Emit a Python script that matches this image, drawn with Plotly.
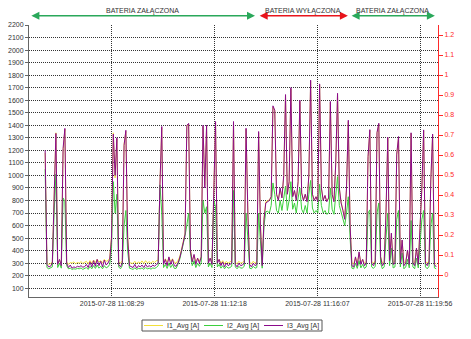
import pandas as pd
import plotly.graph_objects as go

# ---- measured phase currents, one sample every 4 s ----
START_TIME = "2015-07-28 11:06:00"
SAMPLE_STEP = "4s"

I1_AVG = [
    1180, 300, 290, 295, 310, 900, 1340, 305, 320, 295,
    1190, 1370, 310, 290, 305, 300, 310, 295, 305, 300,
    312, 298, 305, 315, 295, 320, 300, 325, 305, 330,
    310, 320, 300, 330, 315, 320, 340, 520, 1340, 980,
    1290, 310, 300, 320, 1250, 1350, 520, 305, 300, 298,
    315, 295, 310, 300, 318, 298, 320, 302, 312, 298,
    315, 305, 320, 320, 930, 1380, 310, 335, 305, 345,
    312, 335, 305, 300, 320, 350, 410, 470, 540, 1390,
    1410, 410, 320, 365, 310, 340, 315, 350, 1390, 920,
    1395, 315, 340, 305, 810, 1425, 315, 330, 300, 320,
    295, 315, 300, 310, 320, 1420, 305, 295, 315, 300,
    305, 320, 1370, 720, 305, 295, 315, 300, 310, 1340,
    620, 300, 660, 790, 795, 805, 830, 1545, 1515, 850,
    805, 890, 825, 990, 1640, 850, 940, 1690, 835, 875,
    805, 940, 1590, 860, 805, 850, 795, 990, 1750, 850,
    805, 830, 795, 1720, 895, 805, 840, 795, 820, 1580,
    850, 795, 1090, 1645, 895, 785, 725, 660, 890, 1430,
    610, 300, 295, 345, 300, 380, 310, 330, 300, 315,
    1140, 1360, 315, 300, 320, 1335, 1410, 350, 300, 315,
    690, 1300, 330, 530, 305, 315, 1160, 1305, 315, 480,
    300, 315, 400, 305, 1335, 315, 300, 415, 305, 560,
    890, 1355, 315, 300, 320, 955, 1325, 305, 290,
]

I2_AVG = [
    1050, 265, 255, 260, 270, 700, 1010, 265, 300, 260,
    820, 790, 280, 255, 260, 250, 255, 252, 258, 255,
    262, 250, 256, 265, 250, 275, 255, 280, 258, 285,
    260, 275, 255, 280, 262, 270, 290, 420, 950, 700,
    850, 270, 255, 280, 600, 720, 400, 260, 255, 250,
    262, 250, 258, 255, 262, 250, 265, 255, 260, 252,
    262, 258, 265, 280, 925, 700, 265, 290, 258, 300,
    265, 290, 258, 258, 290, 330, 390, 450, 520, 605,
    700, 380, 280, 320, 265, 300, 275, 305, 800, 700,
    750, 270, 300, 265, 800, 750, 270, 290, 260, 280,
    255, 275, 260, 265, 275, 880, 270, 255, 275, 260,
    262, 275, 700, 500, 260, 255, 275, 260, 265, 700,
    450, 260, 600, 710, 715, 700, 760, 940, 850, 720,
    700, 800, 720, 830, 915, 720, 800, 950, 730, 780,
    700, 820, 900, 730, 700, 760, 700, 850, 960, 740,
    700, 720, 700, 930, 760, 700, 720, 690, 700, 900,
    730, 690, 850, 990, 760, 700, 640, 600, 700, 830,
    500, 260, 255, 300, 258, 320, 262, 290, 258, 270,
    700, 725, 270, 258, 275, 700, 780, 300, 255, 270,
    500, 700, 280, 420, 262, 270, 650, 720, 270, 380,
    255, 270, 330, 262, 640, 270, 255, 340, 262, 450,
    650, 720, 270, 255, 275, 600, 700, 262, 255,
]

I3_AVG = [
    1200, 290, 270, 275, 300, 930, 1335, 290, 330, 280,
    1215, 1375, 300, 265, 285, 260, 270, 265, 275, 270,
    280, 268, 272, 290, 265, 310, 270, 320, 275, 330,
    280, 315, 270, 325, 285, 300, 330, 500, 1330, 1000,
    1300, 290, 270, 300, 1240, 1360, 500, 280, 270, 265,
    290, 260, 280, 270, 285, 265, 290, 270, 280, 268,
    285, 275, 290, 300, 925, 1390, 290, 330, 280, 350,
    290, 330, 280, 275, 300, 340, 400, 460, 530, 1400,
    1415, 400, 310, 370, 290, 340, 300, 350, 1400, 900,
    1400, 300, 340, 290, 800, 1430, 300, 330, 280, 310,
    270, 300, 280, 290, 300, 1430, 290, 270, 300, 280,
    285, 300, 1376, 700, 290, 270, 300, 280, 290, 1350,
    600, 280, 650, 780, 790, 800, 830, 1555, 1520, 850,
    800, 900, 820, 1000, 1645, 850, 950, 1700, 830, 880,
    800, 950, 1600, 860, 800, 850, 790, 1000, 1760, 850,
    800, 830, 790, 1730, 900, 800, 840, 790, 820, 1590,
    850, 790, 1100, 1655, 900, 780, 720, 650, 900, 1440,
    600, 280, 270, 350, 280, 390, 290, 330, 280, 300,
    1150, 1365, 300, 280, 310, 1342, 1416, 350, 280, 300,
    700, 1305, 320, 540, 290, 300, 1170, 1310, 300, 485,
    280, 300, 405, 290, 1340, 300, 280, 420, 290, 565,
    900, 1363, 300, 280, 310, 964, 1330, 290, 270,
]

SERIES_NAMES = ["I1_Avg [A]", "I2_Avg [A]", "I3_Avg [A]"]
SERIES_COLORS = ["#f2e03a", "#3ccf3c", "#8b0a8b"]

# ---- battery state periods ----
BATTERY_LABELS = ["BATERIA ZAŁĄCZONA", "BATERIA WYŁĄCZONA", "BATERIA ZAŁĄCZONA"]
BATTERY_START = ["2015-07-28 11:05:26", "2015-07-28 11:13:55", "2015-07-28 11:17:20"]
BATTERY_END = ["2015-07-28 11:13:48", "2015-07-28 11:17:15", "2015-07-28 11:20:29"]
BATTERY_COLORS = ["#2aa85a", "#e8141b", "#2aa85a"]

# ---- axes ----
X_RANGE = ["2015-07-28 11:05:24", "2015-07-28 11:20:36"]
X_TICKS = ["2015-07-28 11:08:29", "2015-07-28 11:12:18",
           "2015-07-28 11:16:07", "2015-07-28 11:19:56"]
Y_RANGE = [30, 2200]
Y2_RANGE = [-0.11, 1.25]
Y2_TICKS = [0, 0.1, 0.2, 0.3, 0.4, 0.5, 0.6, 0.7, 0.8, 0.9, 1.0, 1.1, 1.2]
Y2_LABELS = ["0", "0.1", "0.2", "0.3", "0.4", "0.5", "0.6",
             "0.7", "0.8", "0.9", "1", "1.1", "1.2"]

FONT = "Liberation Sans"
W, H = 471, 339
ML, MR, MT, MB = 29, 33, 25, 42
PW, PH = W - ML - MR, H - MT - MB


def px_x(px):
    """Figure pixel column -> paper x."""
    return (px - ML) / PW


def px_y(py):
    """Figure pixel row -> paper y."""
    return (H - MB - py) / PH


times = pd.date_range(START_TIME, periods=len(I3_AVG), freq=SAMPLE_STEP)

fig = go.Figure()
for name, color, values in zip(SERIES_NAMES, SERIES_COLORS, [I1_AVG, I2_AVG, I3_AVG]):
    fig.add_trace(go.Scatter(x=times, y=values, name=name, mode="lines",
                             line=dict(color=color, width=1), showlegend=False))

# secondary (right) scale carries no series of its own
fig.add_trace(go.Scatter(x=[times[0]], y=[None], yaxis="y2", showlegend=False,
                         hoverinfo="skip", mode="lines"))

annotations = []
shapes = []
for label, t0, t1, color in zip(BATTERY_LABELS, BATTERY_START, BATTERY_END, BATTERY_COLORS):
    ts, te = pd.Timestamp(t0), pd.Timestamp(t1)
    annotations.append(dict(
        x=te, y=px_y(15.7), xref="x", yref="paper",
        ax=ts, ay=0, axref="x", ayref="pixel",
        text="", showarrow=True, arrowside="end+start",
        arrowhead=2, arrowsize=1, arrowwidth=1.6, arrowcolor=color,
    ))
    annotations.append(dict(
        x=ts + (te - ts) / 2, y=px_y(10.5), xref="x", yref="paper",
        text=label, showarrow=False, yanchor="middle",
        font=dict(family=FONT, size=7, color="#333333"),
    ))

# legend box drawn below the time axis
LEG_X0, LEG_X1, LEG_Y0, LEG_Y1 = 142, 322, 320, 331
shapes.append(dict(type="rect", xref="paper", yref="paper",
                   x0=px_x(LEG_X0), x1=px_x(LEG_X1), y0=px_y(LEG_Y1), y1=px_y(LEG_Y0),
                   line=dict(color="#555555", width=1), fillcolor="white"))
item_w = (LEG_X1 - LEG_X0) / len(SERIES_NAMES)
ly = (LEG_Y0 + LEG_Y1) / 2
for k, (name, color) in enumerate(zip(SERIES_NAMES, SERIES_COLORS)):
    x0 = LEG_X0 + 2 + k * item_w
    shapes.append(dict(type="line", xref="paper", yref="paper",
                       x0=px_x(x0), x1=px_x(x0 + 19), y0=px_y(ly), y1=px_y(ly),
                       line=dict(color=color, width=1)))
    annotations.append(dict(x=px_x(x0 + 21), y=px_y(ly), xref="paper", yref="paper",
                            text=name, showarrow=False, xanchor="left", yanchor="middle",
                            font=dict(family=FONT, size=7, color="#333333")))

fig.update_layout(
    width=W, height=H,
    margin=dict(l=ML, r=MR, t=MT, b=MB, pad=0, autoexpand=False),
    paper_bgcolor="white", plot_bgcolor="white",
    font=dict(family=FONT, size=7, color="#333333"),
    showlegend=False,
    annotations=annotations,
    shapes=shapes,
    xaxis=dict(
        range=X_RANGE, type="date",
        tickvals=X_TICKS, ticktext=X_TICKS,
        showgrid=True, gridcolor="#333333", griddash="1px,1px", gridwidth=1,
        showline=True, linecolor="#666666", linewidth=1,
        ticks="", zeroline=False,
        tickfont=dict(family=FONT, size=7, color="#333333"),
    ),
    yaxis=dict(
        range=Y_RANGE, dtick=100, tick0=0,
        showgrid=True, gridcolor="#333333", griddash="1px,1px", gridwidth=1,
        showline=True, linecolor="#666666", linewidth=1,
        ticks="outside", ticklen=3, tickcolor="#666666",
        zeroline=False,
        tickfont=dict(family=FONT, size=7, color="#333333"),
    ),
    yaxis2=dict(
        range=Y2_RANGE, overlaying="y", side="right",
        tickvals=Y2_TICKS, ticktext=Y2_LABELS,
        showgrid=False, zeroline=False,
        showline=True, linecolor="#ff2a2a", linewidth=1,
        ticks="outside", ticklen=4, tickcolor="#ff2a2a",
        tickfont=dict(family=FONT, size=7, color="#ff2a2a"),
    ),
)

fig.write_html("out.html")
